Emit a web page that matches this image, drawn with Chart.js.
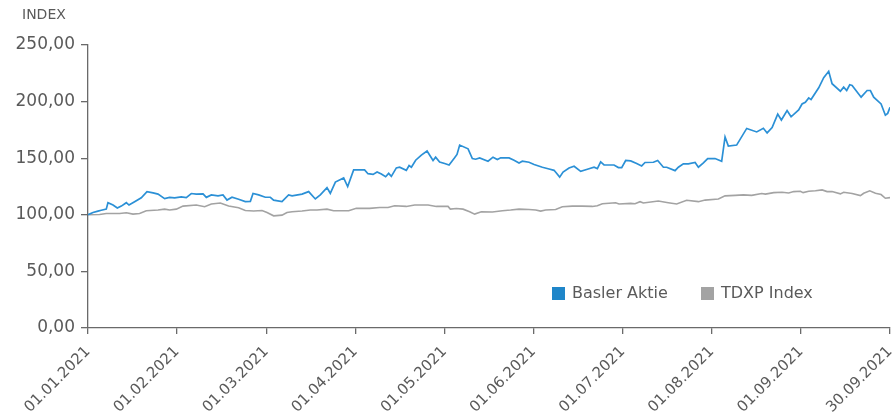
<!DOCTYPE html>
<html>
<head>
<meta charset="utf-8">
<script src="https://cdn.jsdelivr.net/npm/chart.js@4"></script>
<style>
  html, body { margin: 0; padding: 0; background: #fff; }
  #wrap { width: 894px; height: 413px; }
</style>
</head>
<body>
<div id="wrap"><canvas id="myChart" width="894" height="413"></canvas></div>
<script>
// x in months since 01.01.2021 (axis is evenly spaced per month)
const tickLabels = ['01.01.2021', '01.02.2021', '01.03.2021', '01.04.2021', '01.05.2021',
  '01.06.2021', '01.07.2021', '01.08.2021', '01.09.2021', '30.09.2021'];

const seriesNames = ['Basler Aktie', 'TDXP Index'];
const seriesColors = ['#2b90d6', '#a3a3a3'];

const baslerX = [0, 0.056, 0.112, 0.149, 0.205, 0.224, 0.281, 0.329, 0.374, 0.43, 0.46, 0.523, 0.598, 0.662, 0.73, 0.786, 0.86, 0.916, 0.972,
  1.047, 1.103, 1.159, 1.215, 1.291, 1.328, 1.384, 1.459, 1.515, 1.56, 1.616, 1.69, 1.765, 1.822, 1.852, 1.915, 1.99,
  2.046, 2.083, 2.177, 2.251, 2.29, 2.402, 2.476, 2.551, 2.607, 2.682, 2.719, 2.776, 2.869, 2.914, 2.981,
  3.104, 3.142, 3.199, 3.244, 3.292, 3.34, 3.374, 3.404, 3.46, 3.497, 3.572, 3.603, 3.629, 3.677, 3.741, 3.805, 3.872, 3.901, 3.946,
  4.002, 4.052, 4.114, 4.141, 4.171, 4.265, 4.313, 4.35, 4.395, 4.489, 4.545, 4.594, 4.631, 4.725, 4.781, 4.837, 4.874, 4.949,
  5.006, 5.099, 5.174, 5.23, 5.256, 5.293, 5.331, 5.398, 5.455, 5.529, 5.604, 5.679, 5.716, 5.753, 5.791, 5.903, 5.952, 5.989,
  6.034, 6.09, 6.157, 6.213, 6.251, 6.345, 6.393, 6.457, 6.494, 6.588, 6.625, 6.681, 6.737, 6.813, 6.85, 6.906, 6.954,
  7.037, 7.111, 7.149, 7.186, 7.279, 7.392, 7.504, 7.579, 7.621, 7.677, 7.74, 7.781, 7.845, 7.89, 7.975,
  8.013, 8.05, 8.088, 8.114, 8.2, 8.256, 8.312, 8.35, 8.443, 8.48, 8.514, 8.548, 8.575, 8.676, 8.743, 8.78, 8.817, 8.9, 8.948, 8.974, 9];
const baslerY = [100, 102, 103.3, 104, 105, 110.7, 108.6, 106, 107.7, 110.7, 108.6, 111.6, 115, 120.5, 119.3, 118.3, 114.3, 115.4, 114.9,
  115.8, 115.2, 118.8, 118.3, 118.5, 115.4, 117.6, 116.7, 117.6, 113, 115.5, 113.7, 111.6, 111.9, 118.8, 117.6, 115.5,
  115.5, 113, 111.6, 117.6, 116.7, 118.3, 120.5, 114, 117.6, 124, 119, 128.9, 132.5, 125, 139.6,
  139.6, 136.3, 135.7, 137.8, 136, 133.6, 136.6, 134, 141.4, 142, 139.3, 143.5, 142, 148.2, 152.7, 156.3, 148, 150.9, 146.7,
  145.3, 144, 150.3, 153.3, 161.6, 158.3, 149.7, 149.1, 150.3, 147.3, 150.9, 148.8, 150.3, 150.3, 148.2, 145.8, 147.3, 146.4,
  144.4, 142, 140.5, 139.3, 136.9, 133.3, 137.8, 141.4, 142.9, 138.4, 140.2, 142, 140.8, 146.7, 144, 144, 141.7, 141.7,
  148, 147.6, 145.3, 143.2, 146.2, 146.4, 148, 142, 142, 139, 142, 145, 145, 146.2, 142, 145.8, 149.7,
  149.7, 147.3, 168.8, 160.7, 161.6, 176.3, 173.2, 176.4, 172.3, 177, 189, 183.7, 192, 186.6, 192.6,
  197.9, 199.4, 203.3, 201.8, 212.2, 221.2, 226.8, 215.8, 209.2, 212.8, 209.8, 214.9, 214.3, 203.9, 209.8, 209.8, 203.9, 197.9, 188, 189.6, 195];

const tdxpX = [0, 0.13, 0.205, 0.355, 0.43, 0.505, 0.579, 0.654, 0.786, 0.86, 0.916, 0.991,
  1.066, 1.215, 1.309, 1.384, 1.485, 1.578, 1.69, 1.765, 1.859, 1.953,
  2.009, 2.083, 2.177, 2.233, 2.29, 2.402, 2.495, 2.57, 2.682, 2.756, 2.925,
  3.011, 3.16, 3.273, 3.367, 3.441, 3.572, 3.666, 3.816, 3.909,
  4.04, 4.066, 4.133, 4.209, 4.283, 4.339, 4.414, 4.538, 4.65, 4.743, 4.837, 4.949,
  5.024, 5.08, 5.136, 5.248, 5.323, 5.435, 5.547, 5.66, 5.716, 5.772, 5.921, 5.959,
  6.09, 6.139, 6.195, 6.232, 6.4, 6.512, 6.606, 6.718, 6.85, 6.925,
  7.074, 7.149, 7.262, 7.355, 7.448, 7.56, 7.602, 7.695, 7.789, 7.863, 7.919, 7.994,
  8.025, 8.088, 8.163, 8.238, 8.294, 8.35, 8.443, 8.48, 8.575, 8.668, 8.705, 8.773, 8.837, 8.9, 8.948, 9];
const tdxpY = [100, 100.3, 101.2, 101.2, 101.8, 100.6, 101.2, 103.6, 104.2, 105, 104.2, 105,
  107.7, 108.6, 107.1, 109.5, 110.4, 107.7, 106.2, 103.8, 103.3, 103.8,
  102, 99.1, 99.7, 102, 102.7, 103.3, 104.2, 104.2, 105, 103.6, 103.6,
  105.7, 105.7, 106.5, 106.5, 108, 107.4, 108.6, 108.6, 107.4,
  107.4, 105, 105.5, 105, 102.7, 100.6, 102.7, 102.5, 103.6, 104.2, 105, 104.7,
  104.2, 103.3, 104.2, 104.7, 107.1, 107.7, 107.7, 107.4, 108, 109.8, 110.7, 109.5,
  110.1, 109.8, 111.6, 110.4, 112.2, 110.7, 109.5, 112.8, 111.6, 113,
  114, 116.7, 117.2, 117.6, 117.2, 118.8, 118.3, 119.6, 119.9, 119.3, 120.5, 120.8,
  119.6, 120.8, 121.2, 122, 120.5, 120.5, 118.5, 119.9, 118.8, 117, 119, 121.2, 119, 117.9, 114.6, 115.2];

const FONT = 'DejaVu Sans';
const TEXT = '#5a5a5a';
const AXIS = '#6a6a6a';

function toPoints(xs, ys) {
  return xs.map((x, i) => ({ x: x, y: ys[i] }));
}

// "INDEX" label top left + legend inside the plot, bottom right
const extras = {
  id: 'extras',
  afterDraw(chart) {
    const ctx = chart.ctx;
    const area = chart.chartArea;
    ctx.save();
    ctx.fillStyle = TEXT;
    ctx.font = '14px "' + FONT + '"';
    ctx.textBaseline = 'middle';
    ctx.textAlign = 'left';
    ctx.fillText('INDEX', 22, 15);

    ctx.font = '16px "' + FONT + '"';
    let x = 552;
    const y = area.bottom - 35;
    chart.data.datasets.forEach((ds, i) => {
      ctx.fillStyle = i === 0 ? '#1f86c9' : ds.borderColor;
      ctx.fillRect(x, y - 6, 13, 13);
      ctx.fillStyle = TEXT;
      ctx.fillText(ds.label, x + 20, y + 1);
      x += 149;
    });
    ctx.restore();
  }
};

const ctx = document.getElementById('myChart').getContext('2d');
const myChart = new Chart(ctx, {
  type: 'line',
  data: {
    datasets: [
      { label: seriesNames[0], data: toPoints(baslerX, baslerY), borderColor: seriesColors[0], borderWidth: 1.7, pointRadius: 0, tension: 0 },
      { label: seriesNames[1], data: toPoints(tdxpX, tdxpY), borderColor: seriesColors[1], borderWidth: 1.6, pointRadius: 0, tension: 0 }
    ]
  },
  options: {
    responsive: false,
    animation: false,
    layout: { padding: { top: 45, right: 4, left: 0, bottom: 0 } },
    plugins: {
      legend: { display: false },
      tooltip: { enabled: false }
    },
    scales: {
      x: {
        type: 'linear',
        min: 0,
        max: 9,
        afterFit: (s) => { s.height = 85; s.paddingRight = 0; s.paddingLeft = 0; },
        afterBuildTicks: (s) => { s.ticks = tickLabels.map((t, i) => ({ value: i })); },
        ticks: {
          autoSkip: false,
          maxRotation: 45,
          minRotation: 45,
          padding: 9,
          color: TEXT,
          font: { family: FONT, size: 15 },
          callback: (v) => tickLabels[v]
        },
        grid: { drawOnChartArea: false, drawTicks: true, tickLength: 6, color: AXIS, lineWidth: 1.3 },
        border: { display: true, color: AXIS, width: 1.3 }
      },
      y: {
        min: 0,
        max: 250,
        afterFit: (s) => { s.width = 88; },
        ticks: {
          stepSize: 50,
          padding: 6,
          color: TEXT,
          font: { family: FONT, size: 17 },
          callback: (v) => v.toFixed(2).replace('.', ',')
        },
        grid: { drawOnChartArea: false, drawTicks: true, tickLength: 7, color: AXIS, lineWidth: 1.3 },
        border: { display: true, color: AXIS, width: 1.3 }
      }
    }
  },
  plugins: [extras]
});
</script>
</body>
</html>
